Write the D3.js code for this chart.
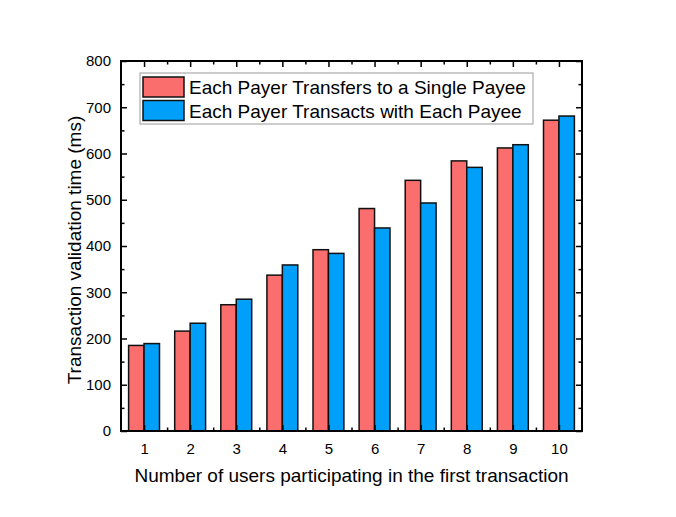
<!DOCTYPE html>
<html lang="en">
<head>
<meta charset="utf-8">
<title>Transaction validation time</title>
<script src="https://d3js.org/d3.v7.min.js"></script>
<style>
  body { margin: 0; background: #fff; }
  text { font-family: "Liberation Sans", Arial, sans-serif; fill: #000; }
  .axis .domain { display: none; }
  .axis line { stroke: #000; stroke-width: 1.5; }
  .axis text { font-size: 15px; }
  .bar { stroke: #111; stroke-width: 1.5; }
</style>
</head>
<body>
<script>
var users = [1, 2, 3, 4, 5, 6, 7, 8, 9, 10];
var singlePayee = [185, 216, 273, 337, 392, 481, 542, 584, 612, 672];
var eachPayee = [189, 233, 285, 359, 384, 439, 493, 570, 619, 681];
var seriesNames = ['Each Payer Transfers to a Single Payee', 'Each Payer Transacts with Each Payee'];
var colors = ['#fa6e6e', '#00a0fa'];
var yTicks = [0, 100, 200, 300, 400, 500, 600, 700, 800];

var w = 676, h = 517;
var margin = {top: 61, right: 94, bottom: 86, left: 121};
var innerW = w - margin.left - margin.right,
    innerH = h - margin.top - margin.bottom;
var barW = 0.335; // in category units

var x = d3.scaleLinear().domain([0.5, 10.5]).range([0, innerW]);
var y = d3.scaleLinear().domain([0, 800]).range([innerH, 0]);

var svg = d3.select('body').append('svg')
    .attr('width', w)
    .attr('height', h);
var g = svg.append('g')
    .attr('transform', 'translate(' + [margin.left, margin.top] + ')');

// bars
var series = [singlePayee, eachPayee];
series.forEach(function(vals, s) {
  g.selectAll('.bar.s' + s)
    .data(users)
    .enter().append('rect')
    .attr('class', 'bar s' + s)
    .attr('x', function(d) { return x(d - barW + s * barW); })
    .attr('width', function(d) { return x(d + barW) - x(d); })
    .attr('y', function(d, i) { return y(vals[i]); })
    .attr('height', function(d, i) { return innerH - y(vals[i]); })
    .style('fill', colors[s]);
});

// axes: ticks point inward
var minorX = d3.range(1.5, 10, 1);
var minorY = d3.range(50, 800, 100);

g.append('g').attr('class', 'axis')
  .attr('transform', 'translate(0,' + innerH + ')')
  .call(d3.axisBottom(x).tickValues(users).tickSizeInner(-6).tickSizeOuter(0).tickPadding(12).tickFormat(d3.format('d')));
g.append('g').attr('class', 'axis')
  .attr('transform', 'translate(0,' + innerH + ')')
  .call(d3.axisBottom(x).tickValues(minorX).tickSize(-3.5).tickFormat(''));
g.append('g').attr('class', 'axis')
  .call(d3.axisTop(x).tickValues(users).tickSize(-6).tickFormat(''));
g.append('g').attr('class', 'axis')
  .call(d3.axisTop(x).tickValues(minorX).tickSize(-3.5).tickFormat(''));

g.append('g').attr('class', 'axis')
  .call(d3.axisLeft(y).tickValues(yTicks).tickSizeInner(-6).tickSizeOuter(0).tickPadding(10));
g.append('g').attr('class', 'axis')
  .call(d3.axisLeft(y).tickValues(minorY).tickSize(-3.5).tickFormat(''));
g.append('g').attr('class', 'axis')
  .attr('transform', 'translate(' + innerW + ',0)')
  .call(d3.axisRight(y).tickValues(yTicks).tickSize(-6).tickFormat(''));
g.append('g').attr('class', 'axis')
  .attr('transform', 'translate(' + innerW + ',0)')
  .call(d3.axisRight(y).tickValues(minorY).tickSize(-3.5).tickFormat(''));

// frame
g.append('rect')
  .attr('width', innerW)
  .attr('height', innerH)
  .style('fill', 'none')
  .style('stroke', '#000')
  .style('stroke-width', 2);

// axis titles
g.append('text')
  .attr('x', innerW / 2)
  .attr('y', innerH + 51)
  .attr('text-anchor', 'middle')
  .style('font-size', '19px')
  .text('Number of users participating in the first transaction');
g.append('text')
  .attr('transform', 'translate(-40,' + (innerH / 2 + 4) + ') rotate(-90)')
  .attr('text-anchor', 'middle')
  .style('font-size', '19px')
  .text('Transaction validation time (ms)');

// legend
var legend = g.append('g').attr('transform', 'translate(19,12)');
legend.append('rect')
  .attr('width', 393)
  .attr('height', 51)
  .style('fill', '#fff')
  .style('stroke', '#999')
  .style('stroke-width', 1);
seriesNames.forEach(function(name, s) {
  var row = legend.append('g').attr('transform', 'translate(3,' + (4 + s * 23.5) + ')');
  row.append('rect')
    .attr('class', 'bar')
    .attr('width', 41)
    .attr('height', 20)
    .style('fill', colors[s]);
  row.append('text')
    .attr('x', 46)
    .attr('y', 17)
    .style('font-size', '19px')
    .text(name);
});
</script>
</body>
</html>
